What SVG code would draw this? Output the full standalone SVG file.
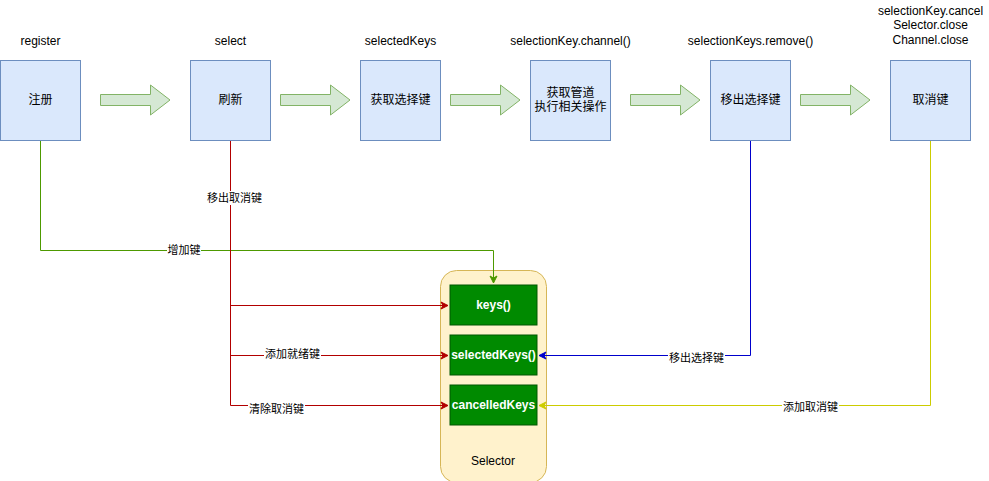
<svg xmlns="http://www.w3.org/2000/svg" width="989" height="481" viewBox="0 0 989 481">
<style>
text{font-family:"Liberation Sans","Noto Sans CJK SC",Arial,sans-serif;fill:#000;}
.lbl{font-size:12px;text-anchor:middle;}
.elbl{font-size:11px;text-anchor:middle;}
.box{fill:#dae8fc;stroke:#6c8ebf;stroke-width:1;}
.barrow{fill:#d5e8d4;stroke:#82b366;stroke-width:1;}
.inner{fill:#008a00;stroke:#005700;stroke-width:1;}
.itxt{font-size:12px;font-weight:bold;fill:#fff;text-anchor:middle;}
.edge{fill:none;stroke-width:1;}
.bg{fill:#fff;}
</style>
<defs>
<marker id="mRed" markerWidth="10" markerHeight="10" refX="8" refY="5" orient="auto" markerUnits="userSpaceOnUse"><path d="M1,1.5 L8,5 L1,8.5 L3,5 Z" fill="#b20000" stroke="#b20000"/></marker>
<marker id="mGreen" markerWidth="10" markerHeight="10" refX="8" refY="5" orient="auto" markerUnits="userSpaceOnUse"><path d="M1,1.5 L8,5 L1,8.5 L3,5 Z" fill="#4d9900" stroke="#4d9900"/></marker>
<marker id="mBlue" markerWidth="10" markerHeight="10" refX="8" refY="5" orient="auto" markerUnits="userSpaceOnUse"><path d="M1,1.5 L8,5 L1,8.5 L3,5 Z" fill="#0000cc" stroke="#0000cc"/></marker>
<marker id="mYellow" markerWidth="10" markerHeight="10" refX="8" refY="5" orient="auto" markerUnits="userSpaceOnUse"><path d="M1,1.5 L8,5 L1,8.5 L3,5 Z" fill="#cccc00" stroke="#cccc00"/></marker>
</defs>
<rect width="989" height="481" fill="#fff"/>

<g id="selector">
<rect x="440.5" y="270.5" width="106" height="212" rx="16" ry="16" fill="#fff2cc" stroke="#d6b656"/>
<text class="lbl" x="493" y="465">Selector</text>
</g>
<g id="keys">
<rect class="inner" x="450" y="285" width="87" height="40"/>
<text class="itxt" x="493.5" y="309">keys()</text>
</g>
<g id="selectedKeysBox">
<rect class="inner" x="450" y="335" width="87" height="40"/>
<text class="itxt" x="493.5" y="359">selectedKeys()</text>
</g>
<g id="cancelledKeys">
<rect class="inner" x="450" y="385" width="87" height="40"/>
<text class="itxt" x="493.5" y="409">cancelledKeys</text>
</g>

<g id="connectors">
<path class="edge" stroke="#4d9900" d="M40.5,140 V250.5 H493.5 V283" marker-end="url(#mGreen)"/>
<path class="edge" stroke="#b20000" d="M230.5,140 V405.5 H448" marker-end="url(#mRed)"/>
<path class="edge" stroke="#b20000" d="M230.5,305.5 H448" marker-end="url(#mRed)"/>
<path class="edge" stroke="#b20000" d="M230.5,355.5 H448" marker-end="url(#mRed)"/>
<path class="edge" stroke="#0000cc" d="M750.5,140 V355.5 H539" marker-end="url(#mBlue)"/>
<path class="edge" stroke="#cccc00" d="M930.5,140 V405.5 H539" marker-end="url(#mYellow)"/>
<rect class="bg" x="206" y="191" width="57" height="14"/>
<text class="elbl" x="234.5" y="202">移出取消键</text>
<rect class="bg" x="167" y="243" width="34" height="14"/>
<text class="elbl" x="184" y="254">增加键</text>
<rect class="bg" x="264" y="348" width="57" height="13"/>
<text class="elbl" x="292.5" y="358">添加就绪键</text>
<rect class="bg" x="248" y="402" width="57" height="13"/>
<text class="elbl" x="276.5" y="413">清除取消键</text>
<rect class="bg" x="668" y="349" width="57" height="13"/>
<text class="elbl" x="696.5" y="362">移出选择键</text>
<rect class="bg" x="782" y="400" width="57" height="14"/>
<text class="elbl" x="810.5" y="411">添加取消键</text>
</g>

<g id="arrows">
<path class="barrow" d="M100.5,94.5 H150.5 V85 L170,100 L150.5,115 V105.5 H100.5 Z"/>
<path class="barrow" d="M280.5,94.5 H330.5 V85 L350,100 L330.5,115 V105.5 H280.5 Z"/>
<path class="barrow" d="M450.5,94.5 H500.5 V85 L520,100 L500.5,115 V105.5 H450.5 Z"/>
<path class="barrow" d="M630.5,94.5 H680.5 V85 L700,100 L680.5,115 V105.5 H630.5 Z"/>
<path class="barrow" d="M800.5,94.5 H850.5 V85 L870,100 L850.5,115 V105.5 H800.5 Z"/>
</g>

<g id="register">
<rect class="box" x="0.5" y="60.5" width="80" height="80"/>
<text class="lbl" x="40.5" y="104">注册</text>
<text class="lbl" x="40.5" y="45">register</text>
</g>
<g id="select">
<rect class="box" x="190.5" y="60.5" width="80" height="80"/>
<text class="lbl" x="230.5" y="104">刷新</text>
<text class="lbl" x="230.5" y="45">select</text>
</g>
<g id="selectedKeys">
<rect class="box" x="360.5" y="60.5" width="80" height="80"/>
<text class="lbl" x="400.5" y="104">获取选择键</text>
<text class="lbl" x="400.5" y="45">selectedKeys</text>
</g>
<g id="channel">
<rect class="box" x="530.5" y="60.5" width="80" height="80"/>
<text class="lbl" x="570.5" y="97">获取管道</text>
<text class="lbl" x="570.5" y="111">执行相关操作</text>
<text class="lbl" x="570.5" y="45">selectionKey.channel()</text>
</g>
<g id="remove">
<rect class="box" x="710.5" y="60.5" width="80" height="80"/>
<text class="lbl" x="750.5" y="104">移出选择键</text>
<text class="lbl" x="750.5" y="45">selectionKeys.remove()</text>
</g>
<g id="cancel">
<rect class="box" x="890.5" y="60.5" width="80" height="80"/>
<text class="lbl" x="930.5" y="104">取消键</text>
<text class="lbl" x="930.5" y="15">selectionKey.cancel</text>
<text class="lbl" x="930.5" y="29">Selector.close</text>
<text class="lbl" x="930.5" y="44">Channel.close</text>
</g>
</svg>
